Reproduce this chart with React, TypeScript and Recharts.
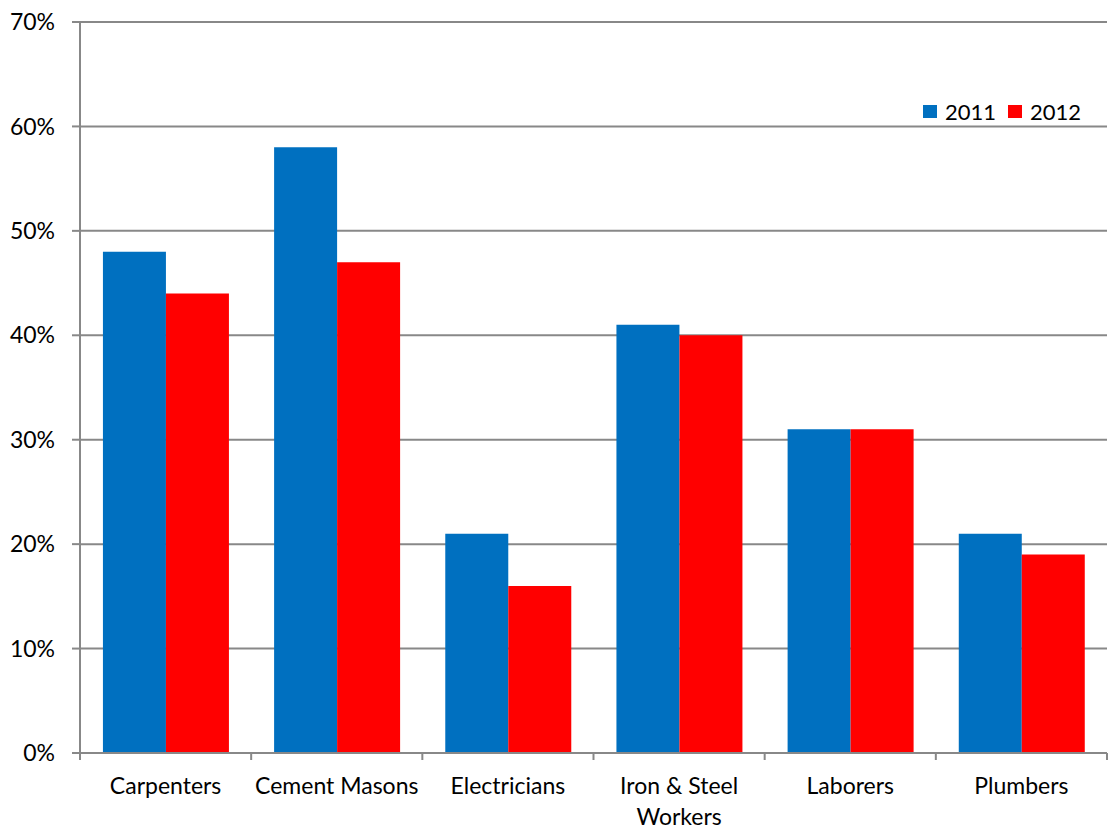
import React from 'react';
import { BarChart, Bar, XAxis, YAxis, CartesianGrid, Legend } from 'recharts';

const categories = ['Carpenters', 'Cement Masons', 'Electricians', 'Iron & Steel Workers', 'Laborers', 'Plumbers'];
const tickLines: string[][] = [['Carpenters'], ['Cement Masons'], ['Electricians'], ['Iron & Steel', 'Workers'], ['Laborers'], ['Plumbers']];
const values2011 = [0.48, 0.58, 0.21, 0.41, 0.31, 0.21];
const values2012 = [0.44, 0.47, 0.16, 0.40, 0.31, 0.19];
const yTicks = [0, 0.1, 0.2, 0.3, 0.4, 0.5, 0.6, 0.7];

const data = categories.map((c, i) => ({ name: c, y2011: values2011[i], y2012: values2012[i] }));

const FONT = 'Lato, "Liberation Sans", sans-serif';
const AXIS = '#888888';

const XTick = (props: any) => {
  const { x, y, payload, index, visibleTicksCount } = props;
  const half = payload.offset ?? 0;
  const lines = tickLines[index] || [String(payload.value)];
  return (
    <g>
      <line x1={x - half} x2={x - half} y1={y - 8} y2={y - 1} stroke={AXIS} strokeWidth={2} />
      {index === visibleTicksCount - 1 && (
        <line x1={x + half} x2={x + half} y1={y - 8} y2={y - 1} stroke={AXIS} strokeWidth={2} />
      )}
      {lines.map((l, i) => (
        <text key={i} x={x} y={y + 33 + i * 31} textAnchor="middle" fontSize={23} fontFamily={FONT} fill="#000">
          {l}
        </text>
      ))}
    </g>
  );
};

const LegendContent = (props: any) => {
  const { payload } = props;
  return (
    <div style={{ display: 'flex', alignItems: 'center', fontFamily: FONT, fontSize: 22 }}>
      {payload.map((p: any, i: number) => (
        <div key={i} style={{ display: 'flex', alignItems: 'center', marginLeft: i === 0 ? 0 : 12 }}>
          <div style={{ width: 14, height: 13, background: p.color, marginRight: 8 }} />
          <span style={{ color: '#000' }}>{p.value}</span>
        </div>
      ))}
    </div>
  );
};

export default function App() {
  return (
    <div style={{ position: 'absolute', left: 0, top: 0, background: '#fff' }}>
      <BarChart
        width={1111}
        height={829}
        data={data}
        margin={{ top: 22, right: 4, left: 0, bottom: 0 }}
        barCategoryGap="13.4%"
        barGap={0}
      >
        <CartesianGrid vertical={false} stroke={AXIS} strokeWidth={2} />
        <XAxis
          dataKey="name"
          height={76}
          axisLine={{ stroke: AXIS, strokeWidth: 2 }}
          tickLine={false}
          tick={<XTick />}
          interval={0}
        />
        <YAxis
          width={80}
          domain={[0, 0.7]}
          ticks={yTicks}
          interval={0}
          tickFormatter={(v: number) => `${Math.round(v * 100)}%`}
          axisLine={{ stroke: AXIS, strokeWidth: 2 }}
          tickLine={{ stroke: AXIS, strokeWidth: 2 }}
          tickSize={8}
          tickMargin={17}
          tick={{ fill: '#000', fontSize: 23, fontFamily: FONT }}
        />
        <Legend
          layout="horizontal"
          verticalAlign="middle"
          align="center"
          wrapperStyle={{ position: 'absolute', top: 98, left: 923, width: 185, right: 'auto', bottom: 'auto' }}
          content={<LegendContent />}
        />
        <Bar dataKey="y2011" name="2011" fill="#0070C0" isAnimationActive={false} />
        <Bar dataKey="y2012" name="2012" fill="#FF0000" isAnimationActive={false} />
      </BarChart>
    </div>
  );
}
